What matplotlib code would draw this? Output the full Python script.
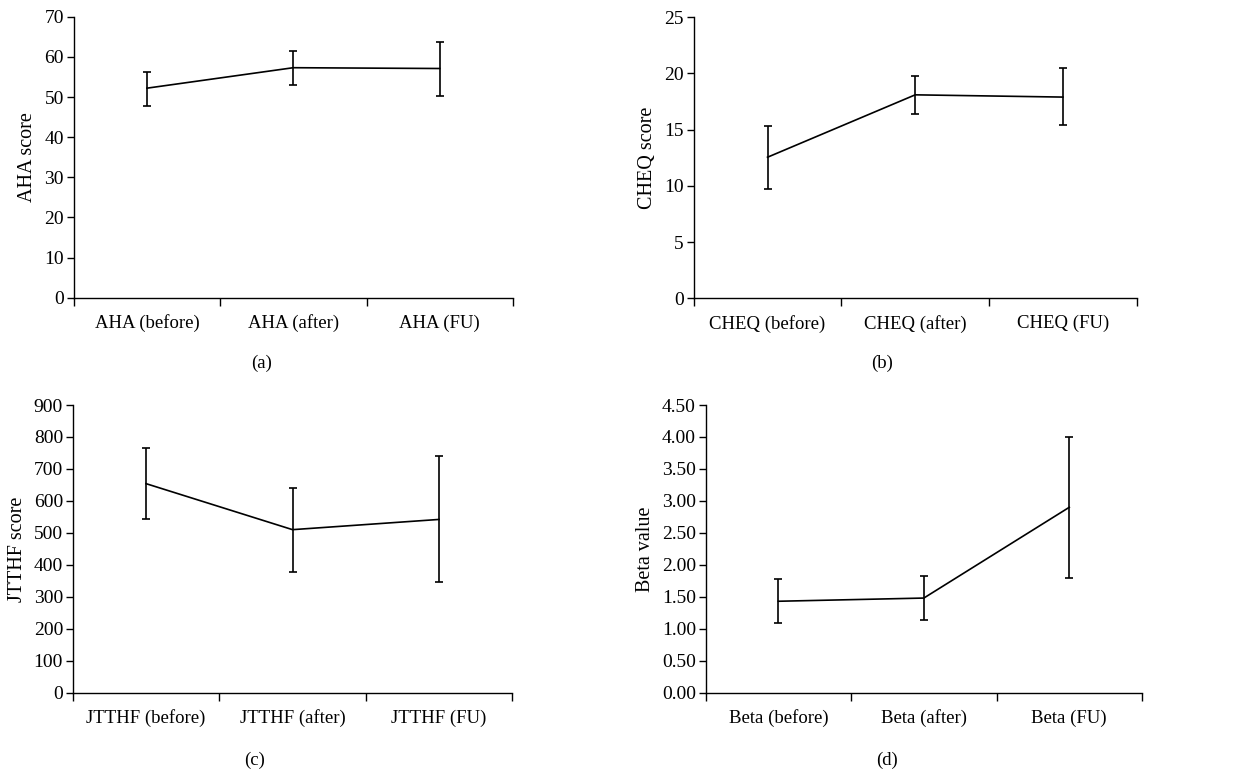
import numpy as np
import matplotlib.pyplot as plt
from matplotlib.ticker import FixedLocator

plt.rcParams['font.family'] = ['Liberation Serif', 'DejaVu Serif']

# data
aha_cats = ["AHA (before)", "AHA (after)", "AHA (FU)"]
aha_mean = [52.2, 57.3, 57.1]
aha_lo = [47.8, 53.1, 50.3]
aha_hi = [56.3, 61.5, 63.7]

cheq_cats = ["CHEQ (before)", "CHEQ (after)", "CHEQ (FU)"]
cheq_mean = [12.55, 18.1, 17.9]
cheq_lo = [9.7, 16.4, 15.4]
cheq_hi = [15.35, 19.8, 20.5]

jtthf_cats = ["JTTHF (before)", "JTTHF (after)", "JTTHF (FU)"]
jtthf_mean = [654, 510, 542]
jtthf_lo = [542, 379, 346]
jtthf_hi = [765, 640, 740]

beta_cats = ["Beta (before)", "Beta (after)", "Beta (FU)"]
beta_mean = [1.43, 1.48, 2.90]
beta_lo = [1.085, 1.13, 1.80]
beta_hi = [1.78, 1.83, 4.00]

FS = 13.5

def panel(rect, cats, mean, lo, hi, ylim, ystep, ylabel, fmt, caption, cap_x, cap_y):
    ax = fig.add_axes(rect)
    x = np.arange(len(cats))
    mean = np.array(mean, float)
    err = [mean - np.array(lo), np.array(hi) - mean]
    ax.errorbar(x, mean, yerr=err, color="black", lw=1.2, elinewidth=1.2,
                capsize=2.8, capthick=1.2)
    ax.set_xlim(-0.5, len(cats) - 0.5)
    ax.set_ylim(0, ylim)
    yt = np.arange(0, ylim + ystep / 2, ystep)
    ax.set_yticks(yt)
    ax.set_yticklabels([fmt.format(v) for v in yt], fontsize=14)
    ax.set_xticks(x)
    ax.set_xticklabels(cats, fontsize=FS)
    ax.xaxis.set_minor_locator(FixedLocator(np.arange(-0.5, len(cats), 1.0)))
    ax.tick_params(axis="x", which="major", length=0, pad=12)
    ax.tick_params(axis="x", which="minor", length=6, width=1.0, direction="out")
    ax.tick_params(axis="y", length=5, width=1.0, direction="out", pad=2)
    for s in ["top", "right"]:
        ax.spines[s].set_visible(False)
    for s in ["left", "bottom"]:
        ax.spines[s].set_linewidth(1.0)
    ax.set_ylabel(ylabel, fontsize=14.5, labelpad=5)
    fig.text(cap_x, cap_y, caption, fontsize=FS, ha="center", va="center")
    return ax

fig = plt.figure(figsize=(12.33, 7.71), dpi=100)

panel([0.0598, 0.6139, 0.3562, 0.3644], aha_cats, aha_mean, aha_lo, aha_hi,
      70, 10, "AHA score", "{:.0f}", "(a)", 262 / 1233, 1 - 363 / 771)
panel([0.5626, 0.6131, 0.3593, 0.3645], cheq_cats, cheq_mean, cheq_lo, cheq_hi,
      25, 5, "CHEQ score", "{:.0f}", "(b)", 882 / 1233, 1 - 363 / 771)
panel([0.0590, 0.1016, 0.3565, 0.3731], jtthf_cats, jtthf_mean, jtthf_lo, jtthf_hi,
      900, 100, "JTTHF score", "{:.0f}", "(c)", 255 / 1233, 1 - 760 / 771)
panel([0.5723, 0.1016, 0.3539, 0.3731], beta_cats, beta_mean, beta_lo, beta_hi,
      4.5, 0.5, "Beta value", "{:.2f}", "(d)", 887 / 1233, 1 - 760 / 771)

fig.savefig("out.png", dpi=100)
